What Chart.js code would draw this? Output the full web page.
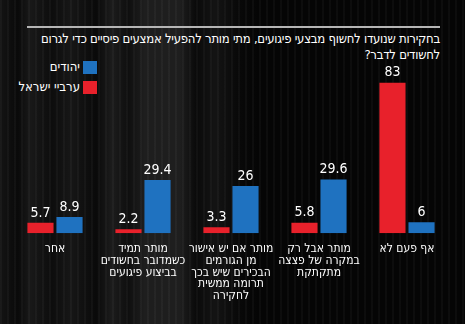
<!DOCTYPE html>
<html lang="he">
<head>
<meta charset="utf-8">
<script src="https://cdn.jsdelivr.net/npm/chart.js@4"></script>
<style>
  html, body { margin: 0; padding: 0; background: #050505; }
  #wrap {
    position: relative;
    width: 465px;
    height: 324px;
    overflow: hidden;
    background:
      linear-gradient(90deg,
        rgba(255,255,255,0.06) 0px, rgba(255,255,255,0.02) 18px,
        rgba(255,255,255,0.08) 30px, rgba(255,255,255,0.03) 52px,
        rgba(255,255,255,0.07) 70px, rgba(255,255,255,0.02) 96px,
        rgba(255,255,255,0.09) 112px, rgba(255,255,255,0.04) 128px,
        rgba(255,255,255,0.1) 145px, rgba(255,255,255,0.1) 180px,
        rgba(255,255,255,0.02) 196px, rgba(255,255,255,0.06) 215px,
        rgba(255,255,255,0.01) 240px, rgba(0,0,0,0) 260px),
      repeating-linear-gradient(90deg,
        rgba(255,255,255,0.03) 0px, rgba(255,255,255,0.03) 2px,
        rgba(0,0,0,0) 2px, rgba(0,0,0,0) 7px),
      #050505;
  }
  #chart { position: absolute; left: 0; top: 0; }
  .rule {
    position: absolute; left: 27px; top: 26px; width: 413px; height: 2px;
    background: #b5b5b5;
  }
  .title {
    position: absolute; right: 25px; top: 31px; width: 440px;
    direction: rtl; text-align: right; white-space: nowrap;
    letter-spacing: -0.25px;
    color: #fff; font: 13px/16px "DejaVu Sans Condensed", sans-serif;
  }
  .legend {
    position: absolute; right: 368px; top: 60px; width: 100px;
    direction: rtl; color: #fff;
    font: 13px/14px "DejaVu Sans Condensed", sans-serif;
  }
  .legend div { display: flex; align-items: center; height: 14px; margin-bottom: 6px; white-space: nowrap; }
  .legend span.box { display: inline-block; width: 14px; height: 13px; margin-left: 3px; }
</style>
</head>
<body>
<div id="wrap">
  <div class="rule"></div>
  <div class="title">בחקירות שנועדו לחשוף מבצעי פיגועים, מתי מותר להפעיל אמצעים פיסיים כדי לגרום<br>לחשודים לדבר?</div>
  <div class="legend" id="legend"></div>
  <canvas id="chart" width="465" height="324"></canvas>
</div>
<script>
// categories, left to right as drawn
const categories = [
  ["אחר"],
  ["מותר תמיד", "כשמדובר בחשודים", "בביצוע פיגועים"],
  ["מותר אם יש אישור", "מן הגורמים", "הבכירים שיש בכך", "תרומה ממשית", "לחקירה"],
  ["מותר אבל רק", "במקרה של פצצה", "מתקתקת"],
  ["אף פעם לא"]
];
const arabValues = [5.7, 2.2, 3.3, 5.8, 83];
const jewishValues = [8.9, 29.4, 26, 29.6, 6];
const seriesNames = ["ערביי ישראל", "יהודים"];
const seriesColors = ["#e8212b", "#1f72c0"];

const fontFamily = '"DejaVu Sans Condensed", sans-serif';

// value above each bar
const valueLabels = {
    id: "valueLabels",
    afterDatasetsDraw(chart) {
        const ctx = chart.ctx;
        ctx.save();
        ctx.fillStyle = "#fff";
        ctx.font = "14px " + fontFamily;
        ctx.textAlign = "center";
        ctx.textBaseline = "bottom";
        chart.data.datasets.forEach((ds, i) => {
            chart.getDatasetMeta(i).data.forEach((bar, j) => {
                ctx.fillText(String(ds.data[j]), bar.x, bar.y - 3);
            });
        });
        ctx.restore();
    }
};

const chart = new Chart(document.getElementById("chart"), {
    type: "bar",
    data: {
        labels: categories,
        datasets: [
            { label: seriesNames[0], data: arabValues, backgroundColor: seriesColors[0] },
            { label: seriesNames[1], data: jewishValues, backgroundColor: seriesColors[1] }
        ]
    },
    options: {
        responsive: false,
        animation: false,
        devicePixelRatio: 1,
        layout: { padding: { top: 70, left: 11, right: 14, bottom: 20 } },
        datasets: { bar: { categoryPercentage: 0.66, barPercentage: 0.9 } },
        plugins: {
            legend: { display: false },
            tooltip: { enabled: false }
        },
        scales: {
            x: {
                grid: { display: false },
                border: { display: false },
                ticks: {
                    color: "#fff",
                    font: { family: fontFamily, size: 12, lineHeight: 0.98 },
                    maxRotation: 0,
                    autoSkip: false,
                    padding: 2
                }
            },
            y: {
                display: false,
                min: 0,
                max: 90
            }
        }
    },
    plugins: [valueLabels]
});

// legend list, Jews first
const legend = document.getElementById("legend");
[1, 0].forEach(i => {
    const row = document.createElement("div");
    row.innerHTML = '<span class="box" style="background:' + seriesColors[i] + '"></span>' + seriesNames[i];
    legend.appendChild(row);
});
</script>
</body>
</html>
